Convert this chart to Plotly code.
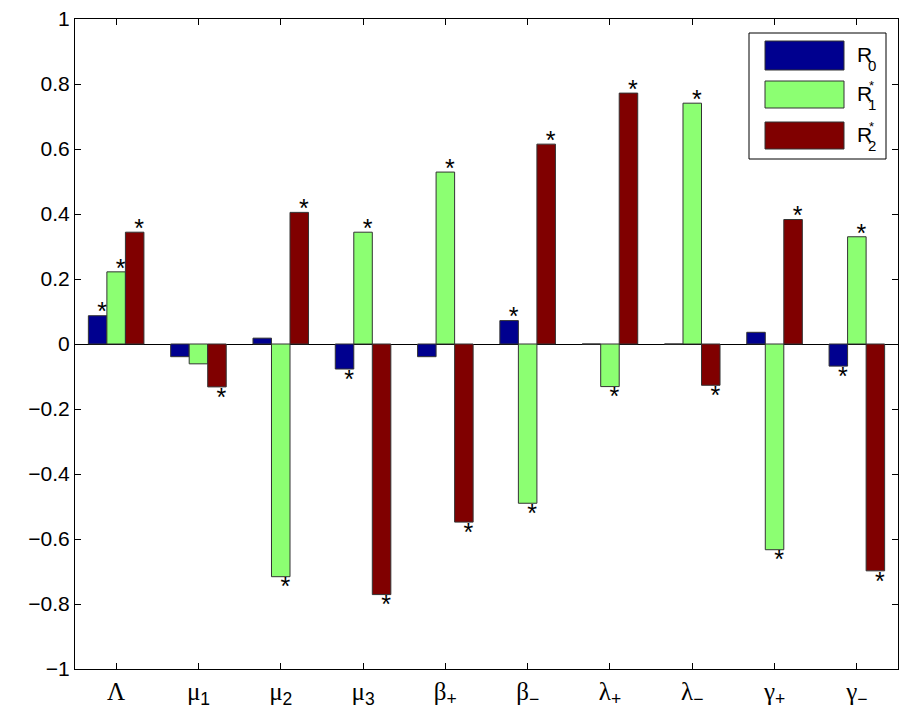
import plotly.graph_objects as go

# ---------------- data ----------------
categories = ["Λ", "μ1", "μ2", "μ3", "β+", "β−", "λ+", "λ−", "γ+", "γ−"]
tick_letters = ["Λ", "μ", "μ", "μ", "β", "β", "λ", "λ", "γ", "γ"]
tick_subs = ["", "1", "2", "3", "+", "−", "+", "−", "+", "−"]
series_names = ["R0", "R1*", "R2*"]
r0 = [0.087, -0.039, 0.018, -0.077, -0.039, 0.072, 0.0, 0.0, 0.036, -0.068]
r1 = [0.222, -0.061, -0.716, 0.344, 0.529, -0.490, -0.131, 0.741, -0.633, 0.330]
r2 = [0.344, -0.132, 0.405, -0.771, -0.548, 0.615, 0.772, -0.127, 0.383, -0.698]
sig0 = [1, 0, 0, 1, 0, 1, 0, 0, 0, 1]
sig1 = [1, 0, 1, 1, 1, 1, 1, 1, 1, 1]
sig2 = [1, 1, 1, 1, 1, 1, 1, 1, 1, 1]
y_ticks = [-1, -0.8, -0.6, -0.4, -0.2, 0, 0.2, 0.4, 0.6, 0.8, 1]

# ---------------- style ----------------
colors = ["#00008F", "#8CFF72", "#800000"]
W, H = 899, 710
L, R, T, B = 75, 1, 19, 41
PW, PH = W - L - R, H - T - B
bar_w = 0.225          # width of one bar in x units
bargap = 1 - 3 * bar_w
y_per_px = 2.0 / PH
x_per_px = 10.0 / PW

xs = list(range(1, len(categories) + 1))
values = [r0, r1, r2]
sigs = [sig0, sig1, sig2]

fig = go.Figure()
for k in range(3):
    fig.add_trace(go.Bar(
        x=xs, y=values[k], name=series_names[k],
        marker=dict(color=colors[k], line=dict(color="#333333", width=1)),
        showlegend=False,
    ))

# significance stars
sx, sy = [], []
for k in range(3):
    for i, x in enumerate(xs):
        if sigs[k][i]:
            v = values[k][i]
            sx.append(x + (k - 1) * bar_w + 4.5 * x_per_px)
            if v >= 0:
                sy.append(v + 1.5 * y_per_px)
            else:
                sy.append(v - 12.5 * y_per_px)
fig.add_trace(go.Scatter(
    x=sx, y=sy, mode="text", text=["*"] * len(sx),
    textposition="middle center",
    textfont=dict(family="Liberation Sans", size=25, color="black"),
    showlegend=False, hoverinfo="skip",
))

ticktext = []
for let, sub in zip(tick_letters, tick_subs):
    s = '<span style="font-family:Liberation Serif">' + let + '</span>'
    if sub:
        s += '<sub>' + sub + '</sub>'
    ticktext.append(s)

fig.update_layout(
    width=W, height=H,
    margin=dict(l=L, r=R, t=T, b=B, pad=0, autoexpand=False),
    paper_bgcolor="white", plot_bgcolor="white",
    barmode="group", bargap=bargap, bargroupgap=0,
    font=dict(family="Liberation Sans", color="black"),
    xaxis=dict(
        range=[0.5, 10.5], tickvals=xs, ticktext=ticktext,
        tickfont=dict(family="Liberation Sans", size=25, color="black"),
        showline=True, linecolor="black", linewidth=1, mirror="allticks",
        ticks="inside", ticklen=6, tickcolor="black", showgrid=False,
        zeroline=False, automargin=False,
    ),
    yaxis=dict(
        range=[-1, 1], tickvals=y_ticks,
        ticktext=[("−" if t < 0 else "") + (("%g" % abs(t)) if t != 0 else "0") for t in y_ticks],
        tickfont=dict(family="Liberation Sans", size=21, color="black"),
        showline=True, linecolor="black", linewidth=1, mirror="allticks",
        ticks="inside", ticklen=6, tickcolor="black", showgrid=False,
        zeroline=True, zerolinecolor="black", zerolinewidth=1, automargin=False,
    ),
)

# ---------------- custom legend (MATLAB style) ----------------
def px_x(p):
    return (p - L) / PW

def px_y(p):
    return (H - B - p) / PH

fig.add_shape(type="rect", xref="paper", yref="paper",
              x0=px_x(749), x1=px_x(886), y0=px_y(159), y1=px_y(33),
              line=dict(color="black", width=1), fillcolor="white", layer="above")
sw = [(41, 70), (81, 108), (122, 149)]
for k in range(3):
    fig.add_shape(type="rect", xref="paper", yref="paper",
                  x0=px_x(765), x1=px_x(844), y0=px_y(sw[k][1]), y1=px_y(sw[k][0]),
                  line=dict(color="#333333", width=1), fillcolor=colors[k], layer="above")
leg_subs = ["0", "1", "2"]
leg_sup = ["", "*", "*"]
for k in range(3):
    cy = (sw[k][0] + sw[k][1]) / 2
    fig.add_annotation(xref="paper", yref="paper", x=px_x(855), y=px_y(cy - 1),
                       text="R", showarrow=False, xanchor="left", yanchor="middle",
                       font=dict(family="Liberation Sans", size=21, color="black"))
    fig.add_annotation(xref="paper", yref="paper", x=px_x(871.5), y=px_y(cy + 10),
                       text=leg_subs[k], showarrow=False, xanchor="center", yanchor="middle",
                       font=dict(family="Liberation Sans", size=15, color="black"))
    if leg_sup[k]:
        fig.add_annotation(xref="paper", yref="paper", x=px_x(871.5), y=px_y(cy - 9),
                           text=leg_sup[k], showarrow=False, xanchor="center", yanchor="middle",
                           font=dict(family="Liberation Sans", size=13, color="black"))

fig.write_html("out.html")
